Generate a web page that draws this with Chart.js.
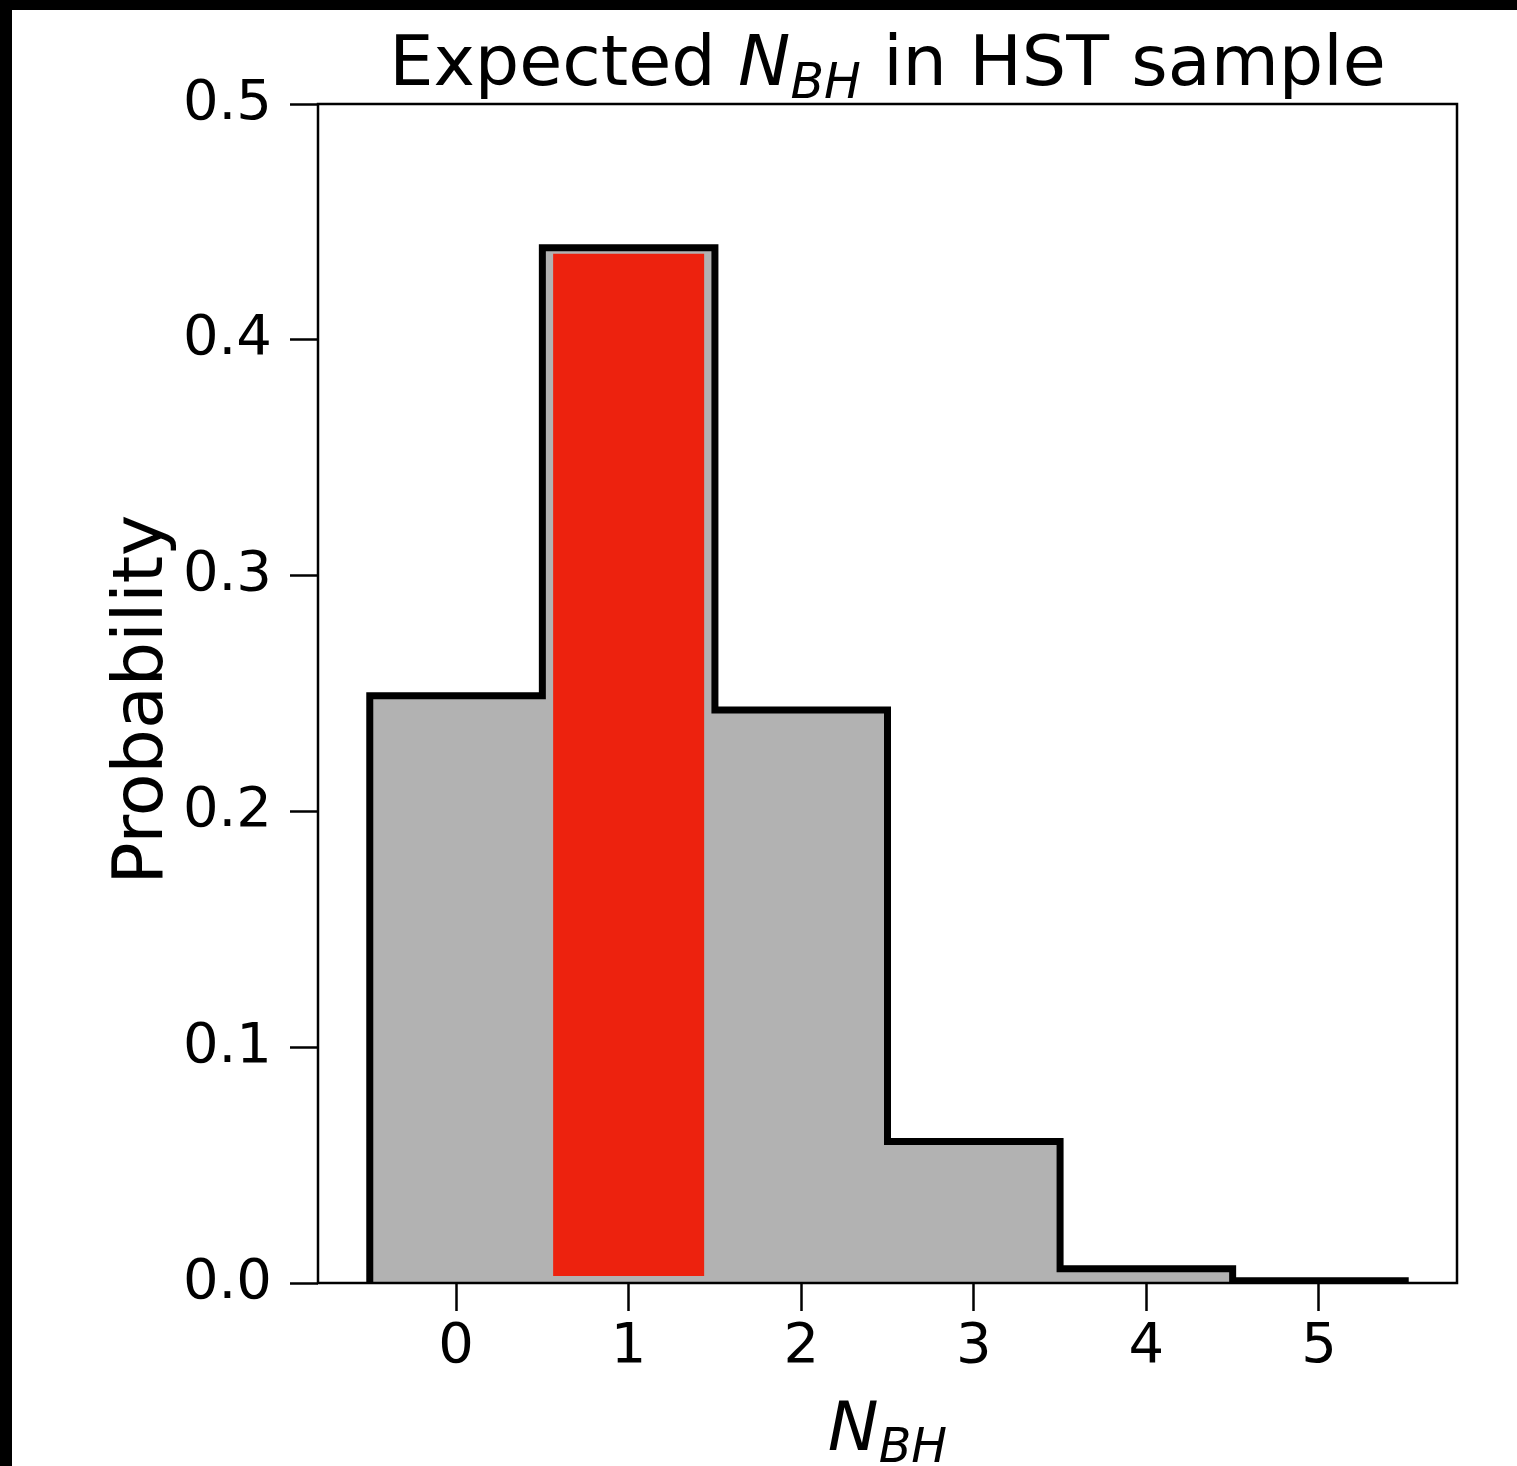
<!DOCTYPE html>
<html><head><meta charset="utf-8">
<script src="https://cdn.jsdelivr.net/npm/chart.js@4/dist/chart.umd.min.js"></script>
<style>html,body{margin:0;padding:0;background:#fff;overflow:hidden}#wrap{position:relative;width:1517px;height:1466px}</style>
</head><body><div id="wrap"><canvas id="c" width="1517" height="1466"></canvas></div>
<script>
// ---- data ----
const binCenters = [0, 1, 2, 3, 4, 5];
const binEdges = [-0.5, 0.5, 1.5, 2.5, 3.5, 4.5, 5.5];
const probabilities = [0.249, 0.439, 0.243, 0.060, 0.006, 0.001];
const highlightBin = 1;
const highlightRange = [0.003, 0.4365];
const xTicks = [0, 1, 2, 3, 4, 5];
const yTicks = [0.0, 0.1, 0.2, 0.3, 0.4, 0.5];
const xRange = [-0.8, 5.8];
const yRange = [0, 0.5];
const titleParts = [["Expected ", false, false], ["N", true, false], ["BH", true, true], [" in HST sample", false, false]];
const xLabelParts = [["N", true, false], ["BH", true, true]];
const yLabel = "Probability";

// ---- build step outline from edges/values ----
function stepOutline(edges, vals) {
  const pts = [{x: edges[0], y: 0}];
  vals.forEach((v, i) => { pts.push({x: edges[i], y: v}); pts.push({x: edges[i + 1], y: v}); });
  pts.push({x: edges[edges.length - 1], y: 0});
  return pts;
}
const outline = stepOutline(binEdges, probabilities);

const FONT = "'DejaVu Sans', 'Noto Sans', sans-serif";

function drawMath(ctx, parts, cx, baseline, size) {
  const measure = (p) => {
    const s = p[2] ? size * 0.7 : size;
    ctx.font = (p[1] ? 'italic ' : '') + s + 'px ' + FONT;
    return ctx.measureText(p[0]).width;
  };
  const widths = parts.map(measure);
  const total = widths.reduce((a, b) => a + b, 0);
  let x = cx - total / 2;
  ctx.textAlign = 'left';
  ctx.textBaseline = 'alphabetic';
  ctx.fillStyle = '#000';
  parts.forEach((p, i) => {
    const s = p[2] ? size * 0.7 : size;
    ctx.font = (p[1] ? 'italic ' : '') + s + 'px ' + FONT;
    ctx.fillText(p[0], x, baseline + (p[2] ? size * 0.18 : 0));
    x += widths[i];
  });
}

const decor = {
  id: 'decor',
  afterDatasetsDraw(chart) {
    const ctx = chart.ctx, a = chart.chartArea;
    ctx.save();
    ctx.strokeStyle = '#000';
    ctx.lineWidth = 2.5;
    ctx.strokeRect(a.left, a.top, a.right - a.left, a.bottom - a.top);
    ctx.restore();
  },
  afterDraw(chart) {
    const ctx = chart.ctx, a = chart.chartArea;
    ctx.save();
    const cx = (a.left + a.right) / 2;
    drawMath(ctx, titleParts, cx, 85, 70);
    drawMath(ctx, xLabelParts, cx, 1450, 68);
    ctx.translate(162, (a.top + a.bottom) / 2 + 6);
    ctx.rotate(-Math.PI / 2);
    ctx.font = '70px ' + FONT;
    ctx.textAlign = 'center';
    ctx.textBaseline = 'alphabetic';
    ctx.fillStyle = '#000';
    ctx.fillText(yLabel, 0, 0);
    ctx.restore();
    ctx.save();
    ctx.fillStyle = '#000';
    ctx.fillRect(0, 0, chart.width, 10);
    ctx.fillRect(0, 0, 12, chart.height);
    ctx.restore();
  }
};

const tickFont = {family: FONT, size: 56};

new Chart(document.getElementById('c'), {
  type: 'line',
  data: {
    datasets: [
      {
        type: 'line', data: outline, order: 0,
        borderColor: '#000', borderWidth: 7, fill: false,
        pointRadius: 0, tension: 0, borderJoinStyle: 'miter', clip: 0
      },
      {
        type: 'bar', order: 1,
        data: [{x: binCenters[highlightBin], y: highlightRange}],
        backgroundColor: 'rgb(237,34,14)', borderWidth: 0,
        categoryPercentage: 1, barPercentage: 0.875
      },
      {
        type: 'line', data: outline, order: 2,
        borderWidth: 0, borderColor: 'rgba(0,0,0,0)',
        backgroundColor: '#b2b2b2', fill: 'origin',
        pointRadius: 0, tension: 0, clip: 0
      }
    ]
  },
  options: {
    responsive: false, animation: false, devicePixelRatio: 1,
    layout: {padding: {left: 0, right: 60, top: 104, bottom: 0}},
    plugins: {legend: {display: false}, tooltip: {enabled: false}, title: {display: false}},
    scales: {
      x: {
        type: 'linear', min: xRange[0], max: xRange[1], offset: false,
        afterBuildTicks: (s) => { s.ticks = xTicks.map(v => ({value: v})); },
        afterFit: (s) => { s.height = 183; },
        grid: {display: true, drawOnChartArea: false, drawTicks: true, tickLength: 28, tickWidth: 2.5, tickColor: '#000', offset: false},
        border: {display: false},
        ticks: {font: tickFont, color: '#000', padding: 3, maxRotation: 0, callback: (v) => String(v)}
      },
      y: {
        type: 'linear', min: yRange[0], max: yRange[1],
        afterBuildTicks: (s) => { s.ticks = yTicks.map(v => ({value: v})); },
        afterFit: (s) => { s.width = 318; },
        grid: {display: true, drawOnChartArea: false, drawTicks: true, tickLength: 28, tickWidth: 2.5, tickColor: '#000'},
        border: {display: false},
        ticks: {font: tickFont, color: '#000', padding: 18, callback: (v) => Number(v).toFixed(1)}
      }
    }
  },
  plugins: [decor]
});
</script>
</body></html>
